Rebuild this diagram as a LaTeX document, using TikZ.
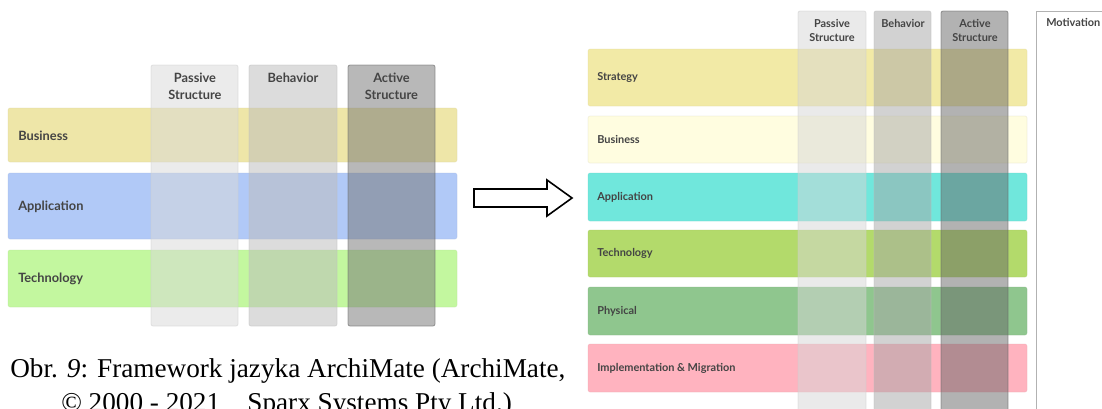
\documentclass[tikz,border=0pt]{standalone}
\usepackage{fontspec}
\setmainfont{Liberation Serif}
\newfontfamily\labfont{Lato}
\begin{document}
\begin{tikzpicture}[x=0.75pt,y=-0.75pt,
  band/.style={rounded corners=1.5pt},
  colPL/.style={fill={rgb,255:red,217;green,217;blue,217}, fill opacity=0.52, draw=black!20, draw opacity=0.5, line width=0.6pt},
  colBL/.style={fill={rgb,255:red,189;green,189;blue,189}, fill opacity=0.52, draw=black!25, draw opacity=0.5, line width=0.6pt},
  colAL/.style={fill={rgb,255:red,119;green,119;blue,119}, fill opacity=0.52, draw=black!60, draw opacity=0.6, line width=0.6pt},
  colPR/.style={fill={rgb,255:red,215;green,215;blue,215}, fill opacity=0.5, draw=black!20, draw opacity=0.5, line width=0.6pt},
  colBR/.style={fill={rgb,255:red,167;green,167;blue,167}, fill opacity=0.5, draw=black!25, draw opacity=0.5, line width=0.6pt},
  colAR/.style={fill={rgb,255:red,103;green,103;blue,103}, fill opacity=0.5, draw=black!60, draw opacity=0.6, line width=0.6pt},
  lab/.style={font=\labfont\bfseries\fontsize{9.6}{11}\selectfont, text=labgray, anchor=west, inner sep=0pt},
  labR/.style={font=\labfont\bfseries\fontsize{8.2}{10}\selectfont, text=labgray, anchor=west, inner sep=0pt},
  hdL/.style={font=\labfont\bfseries\fontsize{9.6}{12.75}\selectfont, text=labgray, align=center, inner sep=0pt},
  hdR/.style={font=\labfont\bfseries\fontsize{8.2}{10.5}\selectfont, text=labgray, align=center, inner sep=0pt},
  capt/.style={font=\fontsize{20.4}{24}\selectfont, anchor=base west, inner sep=0pt}
]
\definecolor{labgray}{RGB}{68,68,68}
\definecolor{lBus}{RGB}{238,230,168}
\definecolor{lApp}{RGB}{177,201,247}
\definecolor{lTec}{RGB}{195,247,159}
\definecolor{rStr}{RGB}{242,234,166}
\definecolor{rBus}{RGB}{255,253,224}
\definecolor{rApp}{RGB}{112,231,220}
\definecolor{rTec}{RGB}{179,218,107}
\definecolor{rPhy}{RGB}{143,198,142}
\definecolor{rImp}{RGB}{255,179,191}
\useasboundingbox (0,0) rectangle (1102,408);
\clip (0,0) rectangle (1102,408);
\fill[white] (0,0) rectangle (1102,408);

% ---------- left diagram ----------
\fill[band, lBus] (8,108) rectangle (457,162);
\fill[band, lApp] (8,173) rectangle (457,239);
\fill[band, lTec] (8,250) rectangle (457,307);
\draw[band, lBus!90!black, draw opacity=0.3, line width=0.5pt] (8,108) rectangle (457,162);
\draw[band, lApp!90!black, draw opacity=0.3, line width=0.5pt] (8,173) rectangle (457,239);
\draw[band, lTec!90!black, draw opacity=0.3, line width=0.5pt] (8,250) rectangle (457,307);
\path[band, colPL] (151,65) rectangle (238,326);
\path[band, colBL] (249,65) rectangle (337,326);
\path[band, colAL] (348,65) rectangle (435,326);
\node[hdL] (lhP) at (195,86.5) {Passive\\Structure};
\node[hdL, anchor=center] (lhB) at (293,78) {Behavior};
\node[hdL] (lhA) at (391.5,86.5) {Active\\Structure};
\node[lab] (lBusL) at (18,136) {Business};
\node[lab] (lAppL) at (18,206.5) {Application};
\node[lab] (lTecL) at (18,279) {Technology};

% ---------- arrow ----------
\draw[line width=1.2pt, line join=miter, fill=white] (474,189) -- (547,189) -- (547,180) -- (572,198) -- (547,216) -- (547,207) -- (474,207) -- cycle;

% ---------- right diagram ----------
\fill[band, rStr] (588,49) rectangle (1027,106);
\fill[band, rBus] (588,116) rectangle (1027,163);
\fill[band, rApp] (588,173) rectangle (1027,221);
\fill[band, rTec] (588,230) rectangle (1027,277);
\fill[band, rPhy] (588,287) rectangle (1027,335);
\fill[band, rImp] (588,344) rectangle (1027,392);
\draw[band, rBus!85!black, draw opacity=0.35, line width=0.5pt] (588,116) rectangle (1027,163);
\foreach \a/\b/\c in {49/106/rStr,173/221/rApp,230/277/rTec,287/335/rPhy,344/392/rImp}
  \draw[band, \c!90!black, draw opacity=0.3, line width=0.5pt] (588,\a) rectangle (1027,\b);
\path[band, colPR] (798,11) rectangle (866,420);
\path[band, colBR] (874,11) rectangle (931,420);
\path[band, colAR] (941,11) rectangle (1008,420);
\draw[black!30, line width=0.6pt] (1036,420) -- (1036,11) -- (1110,11);
\node[hdR] (rhP) at (832,30) {Passive\\Structure};
\node[hdR] (rhB) at (903,23) {Behavior};
\node[hdR] (rhA) at (975,30) {Active\\Structure};
\node[labR] (rMot) at (1046,22.5) {Motivation};
\node[labR] (rStrL) at (597,77.5) {Strategy};
\node[labR] (rBusL) at (597,139.5) {Business};
\node[labR] (rAppL) at (597,197) {Application};
\node[labR] (rTecL) at (597,253.5) {Technology};
\node[labR] (rPhyL) at (597,311) {Physical};
\node[labR] (rImpL) at (597,368) {Implementation \& Migration};

% ---------- caption ----------
\node[capt] (cap1) at (10,377) {Obr. \textit{9}: Framework jazyka ArchiMate (ArchiMate,};
\node[capt] (cap2) at (61,411) {© 2000 - 2021\ \ \ \ Sparx Systems Pty Ltd.)};
\end{tikzpicture}
\end{document}
